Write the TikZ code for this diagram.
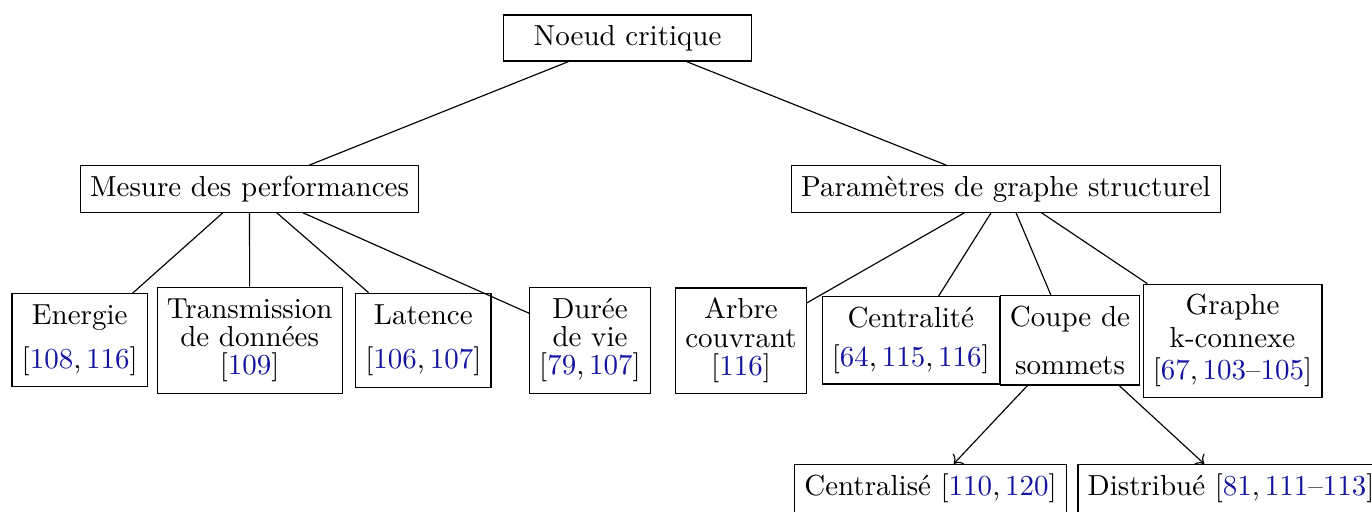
\documentclass[tikz,border=0pt]{standalone}
\usetikzlibrary{arrows.meta}
\definecolor{citeblue}{RGB}{20,20,160}
\newcommand{\refno}[1]{\textcolor{citeblue}{#1}}
\begin{document}
\begin{tikzpicture}[x=0.3448pt, y=-0.3448pt,
  box/.style={draw, align=center, inner xsep=3.33pt, inner ysep=3.5pt,
    font={\fontsize{10}{9}\selectfont\lineskiplimit=-20pt}},
  leafbox/.style={box, inner ysep=3.33pt},
  link/.style={draw},
  arr/.style={draw, ->}]
\useasboundingbox (0,0) rectangle (1372,511);

% top level
\node[box, minimum width=3cm, minimum height=15.9pt] (root) at (627.5,38) {Noeud critique};
\node[box, minimum height=16pt] (perf) at (249.5,189) {Mesure des performances};
\node[box, minimum height=16pt] (graph) at (1006,189) {Paramètres de graphe structurel};

% performance measures
\node[box, minimum height=32pt] (energy) at (79.7,340.3)
  {Energie\\[6pt][\refno{108},\,\refno{116}]};
\node[box, minimum height=36.6pt] (trans) at (249.7,340.3)
  {Transmission\\[0.7pt]de données\\[0.7pt][\refno{109}]};
\node[box, minimum height=32.4pt] (lat) at (423.3,340.3)
  {Latence\\[6.3pt][\refno{106},\,\refno{107}]};
\node[box, minimum height=36.6pt] (life) at (590,340.3)
  {Durée\\[0.6pt]de vie\\[0.6pt][\refno{79},\,\refno{107}]};

% structural graph parameters
\node[box, minimum height=36pt] (tree) at (741,340.5)
  {Arbre\\[0.8pt]couvrant\\[0.8pt][\refno{116}]};
\node[box, minimum height=29.7pt] (centr) at (910.8,340.3)
  {Centralité\\[4.6pt][\refno{64},\,\refno{115},\,\refno{116}]};
\node[box, minimum height=30.8pt] (cut) at (1070,340.3)
  {Coupe de\\[7.6pt]sommets};
\node[box, minimum height=38.6pt] (kconn) at (1232.5,340.7)
  {Graphe\\[2.2pt]k-connexe\\[2.2pt][\refno{67},\,\refno{103}--\refno{105}]};

% vertex cut variants
\node[leafbox] (centralised) at (930.5,488.5)
  {Centralisé [\refno{110},\,\refno{120}]};
\node[leafbox] (distributed) at (1231,488.5)
  {Distribué [\refno{81},\,\refno{111}--\refno{113}]};

% connectors
\draw[link] (root) -- (perf);
\draw[link] (root) -- (graph);
\foreach \c in {energy,trans,lat,life} \draw[link] (perf) -- (\c);
\foreach \c in {tree,centr,cut,kconn} \draw[link] (graph) -- (\c);
\draw[arr] (cut) -- (centralised);
\draw[arr] (cut) -- (distributed);
\end{tikzpicture}
\end{document}
